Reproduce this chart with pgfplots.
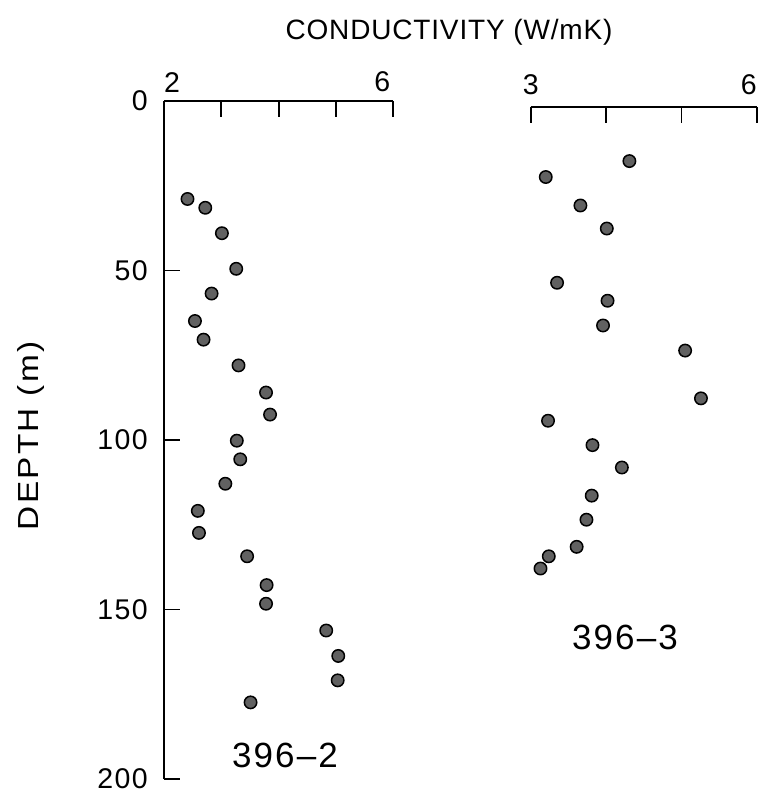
\documentclass[border=0pt]{standalone}
\usepackage{fontspec}
\setmainfont{Liberation Sans}
\usepackage{pgfplots}
\pgfplotsset{compat=1.18}
\newcommand\bigfont{\fontsize{28}{32}\selectfont}
\newcommand\tickfont{\fontsize{28.5}{32}\selectfont\addfontfeature{LetterSpace=5}}
\newcommand\depthfont{\fontsize{29}{32}\selectfont\addfontfeature{FakeStretch=1.15,LetterSpace=8}}
\newcommand\labfont{\fontsize{35}{40}\selectfont\addfontfeature{LetterSpace=6}}

\pgfplotsset{
  depthstyle/.style={
    scale only axis,
    y dir=reverse,
    ymax=200,
    axis x line*=top,
    xtick pos=right,
    xticklabel pos=right,
    axis line style={line width=1.7pt,-},
    major tick length=16pt,
    every tick/.style={black,line width=1.7pt},
    tick align=inside,
    ticklabel style={font=\tickfont},
    /pgf/number format/assume math mode=true,
    clip=false,
  },
  dots/.style={only marks, mark=*, mark size=6.2pt,
    mark options={draw=black, fill=black!62, line width=1.5pt}},
}

\begin{document}
\begin{tikzpicture}
\useasboundingbox (0,0) rectangle (761pt,794pt);

% left panel: 396-2
\begin{axis}[depthstyle,
  at={(164pt,15pt)}, anchor=south west,
  width=229.3pt, height=678pt,
  xmin=2, xmax=6, ymin=0,
  axis y line*=left,
  ytick pos=left,
  xtick={2,3,4,5,6}, xticklabels={\rlap{2},,,,\llap{6\hspace{3pt}}},
  xticklabel style={anchor=south, inner sep=0pt, yshift=8.7pt},
  ytick={0,50,100,150,200},
  yticklabel style={anchor=east, inner sep=0pt, xshift=-16pt},
]
\addplot[dots] coordinates {
(2.41,28.9) (2.72,31.5) (3.01,39.0) (3.26,49.5) (2.83,56.8) (2.54,64.9)
(2.69,70.4) (3.30,78.0) (3.78,86.0) (3.85,92.5) (3.27,100.2) (3.33,105.7)
(3.07,112.9) (2.59,120.9) (2.61,127.4) (3.45,134.3) (3.79,142.8) (3.78,148.3)
(4.83,156.2) (5.04,163.7) (5.03,170.9) (3.51,177.4)
};
\end{axis}

% right panel: 396-3
\begin{axis}[depthstyle,
  at={(530.7pt,15pt)}, anchor=south west,
  width=226pt, height=672pt,
  xmin=3, xmax=6, ymin=1.74,
  axis y line=none,
  ytick=\empty,
  xtick={3,4,5,6}, xticklabels={3,,,\llap{6}},
  xticklabel style={anchor=south, inner sep=0pt, yshift=12pt},
]
\addplot[dots] coordinates {
(4.31,17.7) (3.20,22.4) (3.66,30.8) (4.01,37.6) (3.35,53.6) (4.02,58.9)
(3.96,66.2) (5.05,73.6) (5.26,87.7) (3.23,94.3) (3.82,101.5) (4.21,108.1)
(3.81,116.4) (3.74,123.5) (3.61,131.5) (3.24,134.3) (3.13,137.9)
};
\end{axis}

\node[font=\bigfont\addfontfeature{LetterSpace=3}, anchor=base, inner sep=0pt] at (449pt,754pt) {CONDUCTIVITY (W/mK)};
\node[font=\depthfont, rotate=90, anchor=base, inner sep=0pt] at (38pt,358pt) {DEPTH (m)};
\node[font=\labfont, anchor=base, inner sep=0pt] at (285pt,27pt) {396\textendash2};
\node[font=\labfont, anchor=base, inner sep=0pt] at (625pt,144pt) {396\textendash3};
\end{tikzpicture}
\end{document}
